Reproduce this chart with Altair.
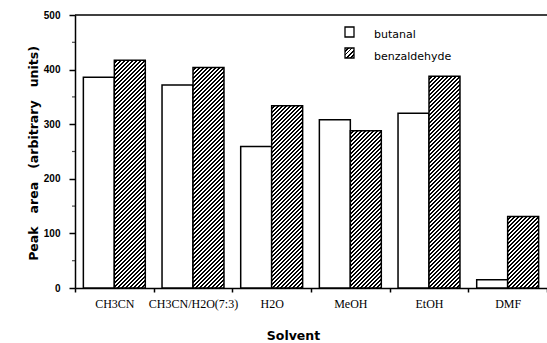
import altair as alt

# Peak areas per solvent for the two aldehydes
solvents = ["CH3CN", "CH3CN/H2O(7:3)", "H2O", "MeOH", "EtOH", "DMF"]
series = ["butanal", "benzaldehyde"]
butanal = [386, 372, 259, 308, 320, 15]
benzaldehyde = [417, 404, 334, 288, 388, 131]

# Plot geometry (pixels)
PLOT_W, PLOT_H = 472, 273
Y_MAX = 500
GROUP_PAD = 0.27
BAR_W = (PLOT_W / len(solvents)) / (2 + 2 * GROUP_PAD)


def hatch(w, h, period=4.0, ink=0.42):
    """Linear gradient drawing '////' stripes at 45 degrees in a w x h box."""
    total = w + h
    a = total / (w * w + h * h)
    step = period / total
    stops = []
    k = 0
    while k * step < 1:
        s = k * step
        m = min(s + step * (1 - ink), 1.0)
        e = min(s + step, 1.0)
        stops += [
            {"offset": round(s, 5), "color": "white"},
            {"offset": round(m, 5), "color": "white"},
            {"offset": round(m, 5), "color": "black"},
            {"offset": round(e, 5), "color": "black"},
        ]
        k += 1
    return {"gradient": "linear", "x1": 0, "y1": 0,
            "x2": a * w, "y2": a * h, "stops": stops}


records = []
for s, b, z in zip(solvents, butanal, benzaldehyde):
    records.append({"solvent": s, "series": "butanal", "value": b,
                    "fill": "white"})
    records.append({"solvent": s, "series": "benzaldehyde", "value": z,
                    "fill": hatch(BAR_W, z / Y_MAX * PLOT_H)})

GAP = " \u00a0\u00a0"
Y_TITLE = GAP.join(["Peak", "area", "(arbitrary", "units)"])

bars = alt.Chart(alt.Data(values=records)).mark_bar(
    stroke="black", strokeWidth=1.5
).encode(
    x=alt.X(
        "solvent:N", sort=solvents,
        scale=alt.Scale(paddingInner=0, paddingOuter=0),
        axis=alt.Axis(
            title="Solvent", labelAngle=0, tickBand="extent",
            tickSize=4, tickWidth=1.5, tickColor="black",
            domainColor="black", domainWidth=1.5,
            labelFont="Liberation Serif", labelFontSize=12,
            labelColor="black", labelPadding=6,
            titleFont="DejaVu Sans", titleFontSize=12.5,
            titleFontWeight="bold", titleColor="black",
            titleX=218, titleY=51, titleBaseline="alphabetic",
        ),
    ),
    xOffset=alt.XOffset(
        "series:N", sort=series,
        scale=alt.Scale(paddingInner=0, paddingOuter=GROUP_PAD),
    ),
    y=alt.Y(
        "value:Q",
        scale=alt.Scale(domain=[0, Y_MAX], nice=False),
        axis=alt.Axis(
            title=Y_TITLE,
            values=[0, 100, 200, 300, 400, 500], grid=False,
            tickSize=6, tickWidth=1.5, tickColor="black",
            domainColor="black", domainWidth=1.5,
            labelFont="Liberation Sans", labelFontSize=10,
            labelFontWeight="bold", labelColor="black", labelPadding=9,
            titleFont="DejaVu Sans", titleFontSize=12.5,
            titleFontWeight="bold", titleColor="black",
            titleX=-42, titleY=138, titleBaseline="middle",
        ),
    ),
    fill=alt.Fill("fill:N", scale=None, legend=None),
)

# Short minor ticks between the labelled ones
minor = alt.Chart(alt.Data(values=[{"value": v} for v in [50, 150, 250, 350, 450]])).mark_tick(
    color="black", thickness=1.2, size=3, orient="horizontal"
).encode(y="value:Q", x=alt.value(-1.5))

# Frame line along the top of the plot
top = alt.Chart(alt.Data(values=[{"value": Y_MAX}])).mark_rule(
    color="black", strokeWidth=1.5
).encode(y="value:Q")

# Legend
leg_box_a = alt.Chart(alt.Data(values=[{"series": "butanal"}])).mark_rect(
    fill="white", stroke="black", strokeWidth=1.3
).encode(x=alt.value(270), x2=alt.value(279), y=alt.value(12), y2=alt.value(22))

leg_box_b = alt.Chart(alt.Data(values=[{"series": "benzaldehyde"}])).mark_rect(
    fill=alt.LinearGradient(**hatch(9, 10)), stroke="black", strokeWidth=1.3
).encode(x=alt.value(270), x2=alt.value(279), y=alt.value(33), y2=alt.value(43))

leg_text_a = alt.Chart(alt.Data(values=[{"series": "butanal"}])).mark_text(
    font="DejaVu Sans", fontSize=11, align="left", baseline="middle", color="black"
).encode(text="series:N", x=alt.value(299), y=alt.value(20))

leg_text_b = alt.Chart(alt.Data(values=[{"series": "benzaldehyde"}])).mark_text(
    font="DejaVu Sans", fontSize=11, align="left", baseline="middle", color="black"
).encode(text="series:N", x=alt.value(299), y=alt.value(41.5))

chart = alt.layer(
    bars, minor, top, leg_box_a, leg_box_b, leg_text_a, leg_text_b
).properties(
    width=PLOT_W, height=PLOT_H,
    padding={"left": 75, "top": 15, "right": 0, "bottom": 55},
    autosize=alt.AutoSizeParams(type="none"),
    background="white",
).configure_view(stroke=None)

chart.save("out.html", embed_options={"renderer": "svg", "actions": False})
